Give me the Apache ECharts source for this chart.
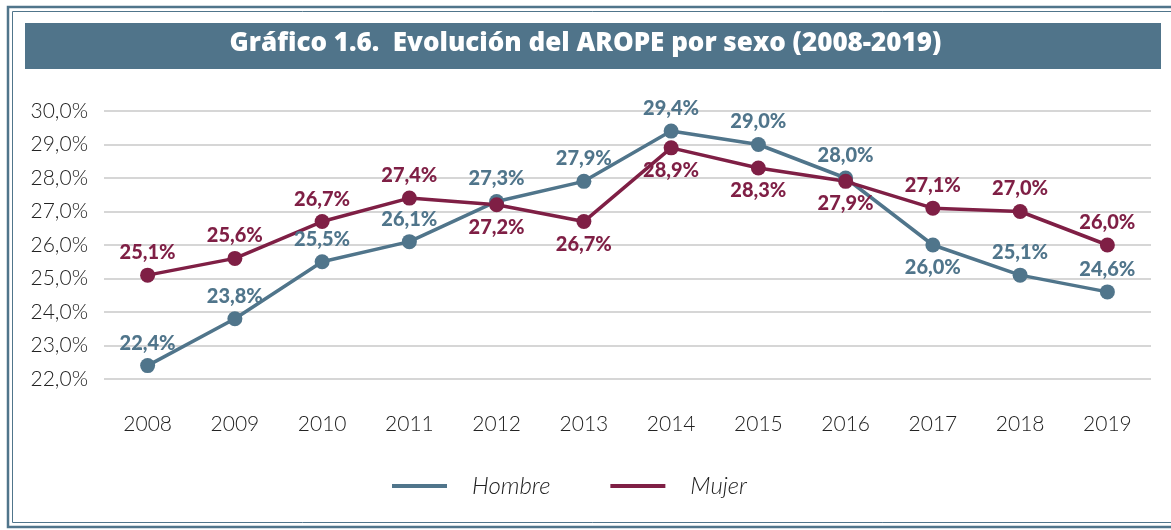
<!DOCTYPE html>
<html>
<head>
<meta charset="utf-8">
<script src="https://cdn.jsdelivr.net/npm/echarts@6/dist/echarts.min.js"></script>
<style>
  html, body { margin: 0; padding: 0; background: #fff; }
  #chart { width: 1171px; height: 530px; }
</style>
</head>
<body>
<div id="chart"></div>
<script>
const years = ['2008', '2009', '2010', '2011', '2012', '2013', '2014', '2015', '2016', '2017', '2018', '2019']
const hombre = [22.4, 23.8, 25.5, 26.1, 27.3, 27.9, 29.4, 29.0, 28.0, 26.0, 25.1, 24.6]
const mujer = [25.1, 25.6, 26.7, 27.4, 27.2, 26.7, 28.9, 28.3, 27.9, 27.1, 27.0, 26.0]
// where each value label sits
const hombrePos = ['top', 'top', 'top', 'top', 'top', 'top', 'top', 'top', 'top', 'bottom', 'top', 'top']
const mujerPos = ['top', 'top', 'top', 'top', 'bottom', 'bottom', 'bottom', 'bottom', 'bottom', 'top', 'top', 'top']

const BLUE = '#50758b'
const RED = '#7f1f45'

const fmt = v => v.toFixed(1).replace('.', ',') + '%'

const buildData = (vals, pos) => vals.map((v, i) => ({
  value: v,
  label: { position: pos[i] }
}))

const chart = echarts.init(document.getElementById('chart'))

const option = {
  animation: false,
  graphic: [
    { type: 'rect', shape: { x: 8, y: 7, width: 1200, height: 520 }, style: { fill: 'none', stroke: BLUE, lineWidth: 2.5 } },
    { type: 'rect', shape: { x: 12.5, y: 11.5, width: 1200, height: 511 }, style: { fill: 'none', stroke: BLUE, lineWidth: 1 } },
    { type: 'rect', shape: { x: 25, y: 23, width: 1136, height: 46 }, style: { fill: '#50748a' } },
    {
      type: 'text', left: 'center', top: 31,
      style: { text: 'Gráfico 1.6.  Evolución del AROPE por sexo (2008-2019)', fill: '#fff', font: '800 26px "Open Sans", sans-serif' }
    }
  ],
  grid: { left: 104, right: 20, top: 111, height: 268 },
  legend: {
    bottom: 27,
    left: 387,
    itemGap: 60,
    itemWidth: 55,
    itemHeight: 4,
    icon: 'rect',
    textStyle: { fontFamily: 'Lato', fontStyle: 'italic', fontWeight: 300, fontSize: 24, color: '#222', padding: [0, 0, 0, 20] },
    data: ['Hombre', 'Mujer']
  },
  xAxis: {
    type: 'category',
    data: years,
    boundaryGap: true,
    axisLine: { show: false },
    axisTick: { show: false },
    axisLabel: { margin: 35, fontFamily: 'Lato', fontWeight: 300, fontSize: 21, color: '#222' }
  },
  yAxis: {
    type: 'value',
    min: 22,
    max: 30,
    interval: 1,
    axisLabel: { formatter: fmt, fontFamily: 'Lato', fontWeight: 300, fontSize: 21, color: '#222', margin: 16 },
    splitLine: { lineStyle: { color: '#c8c8c8', width: 1.5 } }
  },
  series: [
    {
      name: 'Hombre',
      type: 'line',
      data: buildData(hombre, hombrePos),
      symbol: 'circle',
      symbolSize: 15,
      lineStyle: { color: BLUE, width: 3.5 },
      itemStyle: { color: BLUE },
      label: { show: true, formatter: p => fmt(p.value), color: BLUE, fontFamily: 'Lato', fontWeight: 900, fontSize: 20, distance: 5 }
    },
    {
      name: 'Mujer',
      type: 'line',
      data: buildData(mujer, mujerPos),
      symbol: 'circle',
      symbolSize: 15,
      lineStyle: { color: RED, width: 3.5 },
      itemStyle: { color: RED },
      label: { show: true, formatter: p => fmt(p.value), color: RED, fontFamily: 'Lato', fontWeight: 900, fontSize: 20, distance: 5 }
    }
  ]
}

chart.setOption(option)
</script>
</body>
</html>
